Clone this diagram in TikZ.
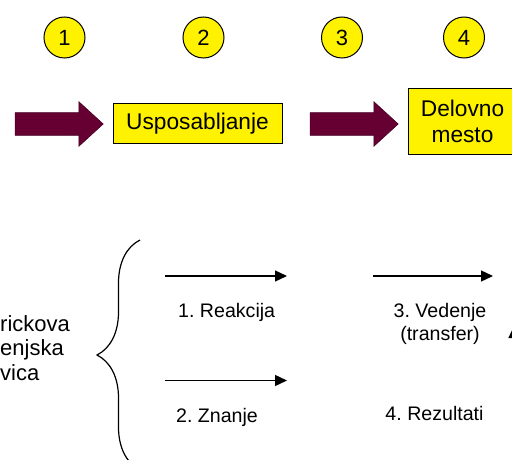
\documentclass[tikz,border=0pt]{standalone}
\usepackage{fontspec}
\setmainfont{Liberation Sans}
\frenchspacing
\usetikzlibrary{shapes,arrows.meta,decorations.pathreplacing}
\definecolor{maroon}{HTML}{660033}
\tikzset{numcircle/.style={circle, draw, line width=1pt, fill=yellow, minimum size=41pt, inner sep=0pt, font=\fontsize{22}{24}\selectfont}}
\tikzset{yellowbox/.style={draw, rectangle, line width=1pt, fill=yellow, text centered, align=center, inner sep=0pt, font=\fontsize{22.7}{26}\selectfont}}
\tikzset{bigarrow/.style={single arrow, draw=maroon!70!black, line width=0.6pt, fill=maroon, inner xsep=0pt, inner ysep=11pt, minimum height=88pt, single arrow head extend=11pt, single arrow tip angle=85, single arrow head indent=0pt}}
\tikzset{thinarrow/.style={draw, line width=1.3pt, -{Triangle[length=12pt,width=11pt]}}}
\tikzset{steptext/.style={inner sep=0pt, font=\fontsize{19.6}{23}\selectfont}}

\begin{document}
\begin{tikzpicture}[x=1pt, y=-1pt]
        \useasboundingbox (0,0) rectangle (512,460);
        % top row
        \node[numcircle] (n1) at (64.5,37.5) {1};
        \node[numcircle] (n2) at (203.5,37.5) {2};
        \node[numcircle] (n3) at (342,37.5) {3};
        \node[numcircle] (n4) at (464,37.5) {4};
        \node[bigarrow] (arrow1) at (53,124) {};
        \node[yellowbox, minimum width=169pt, minimum height=39pt] (training) at (197.5,123.5) {Usposabljanje};
        \node[bigarrow] (arrow2) at (348,124) {};
        \node[yellowbox, minimum width=109pt, minimum height=65pt] (workplace) at (462.5,121.5) {Delovno\\mesto};
        % bottom part
        \node[inner sep=0pt, anchor=base west, align=left, font=\fontsize{22}{24.2}\selectfont] (ladder) at (0,380) {rickova\\enjska\\vica};
        \coordinate (bracetop) at (140,240);
        \coordinate (bracebot) at (140,470);
        \draw[line width=1.2pt, decorate, decoration={brace, amplitude=43pt}] (bracebot) -- (bracetop);
        \coordinate (r1a) at (165,276);
        \coordinate (r1b) at (287,276);
        \coordinate (r2a) at (165,380.5);
        \coordinate (r2b) at (287,380.5);
        \coordinate (r3a) at (373,276);
        \coordinate (r3b) at (493,276);
        \coordinate (r4a) at (514,400);
        \coordinate (r4b) at (514,326);
        \path[thinarrow] (r1a) -- (r1b);
        \path[thinarrow] (r2a) -- (r2b);
        \path[thinarrow] (r3a) -- (r3b);
        \path[thinarrow] (r4a) -- (r4b);
        \node[steptext, anchor=base west] (reaction) at (178,317) {1. Reakcija};
        \node[steptext, anchor=base west] (knowledge) at (176,422) {2. Znanje};
        \node[steptext, anchor=base, align=center] (behaviour) at (440,340) {3. Vedenje\\(transfer)};
        \node[steptext, anchor=base] (results) at (434.5,420) {4. Rezultati};
    \end{tikzpicture}
\end{document}
